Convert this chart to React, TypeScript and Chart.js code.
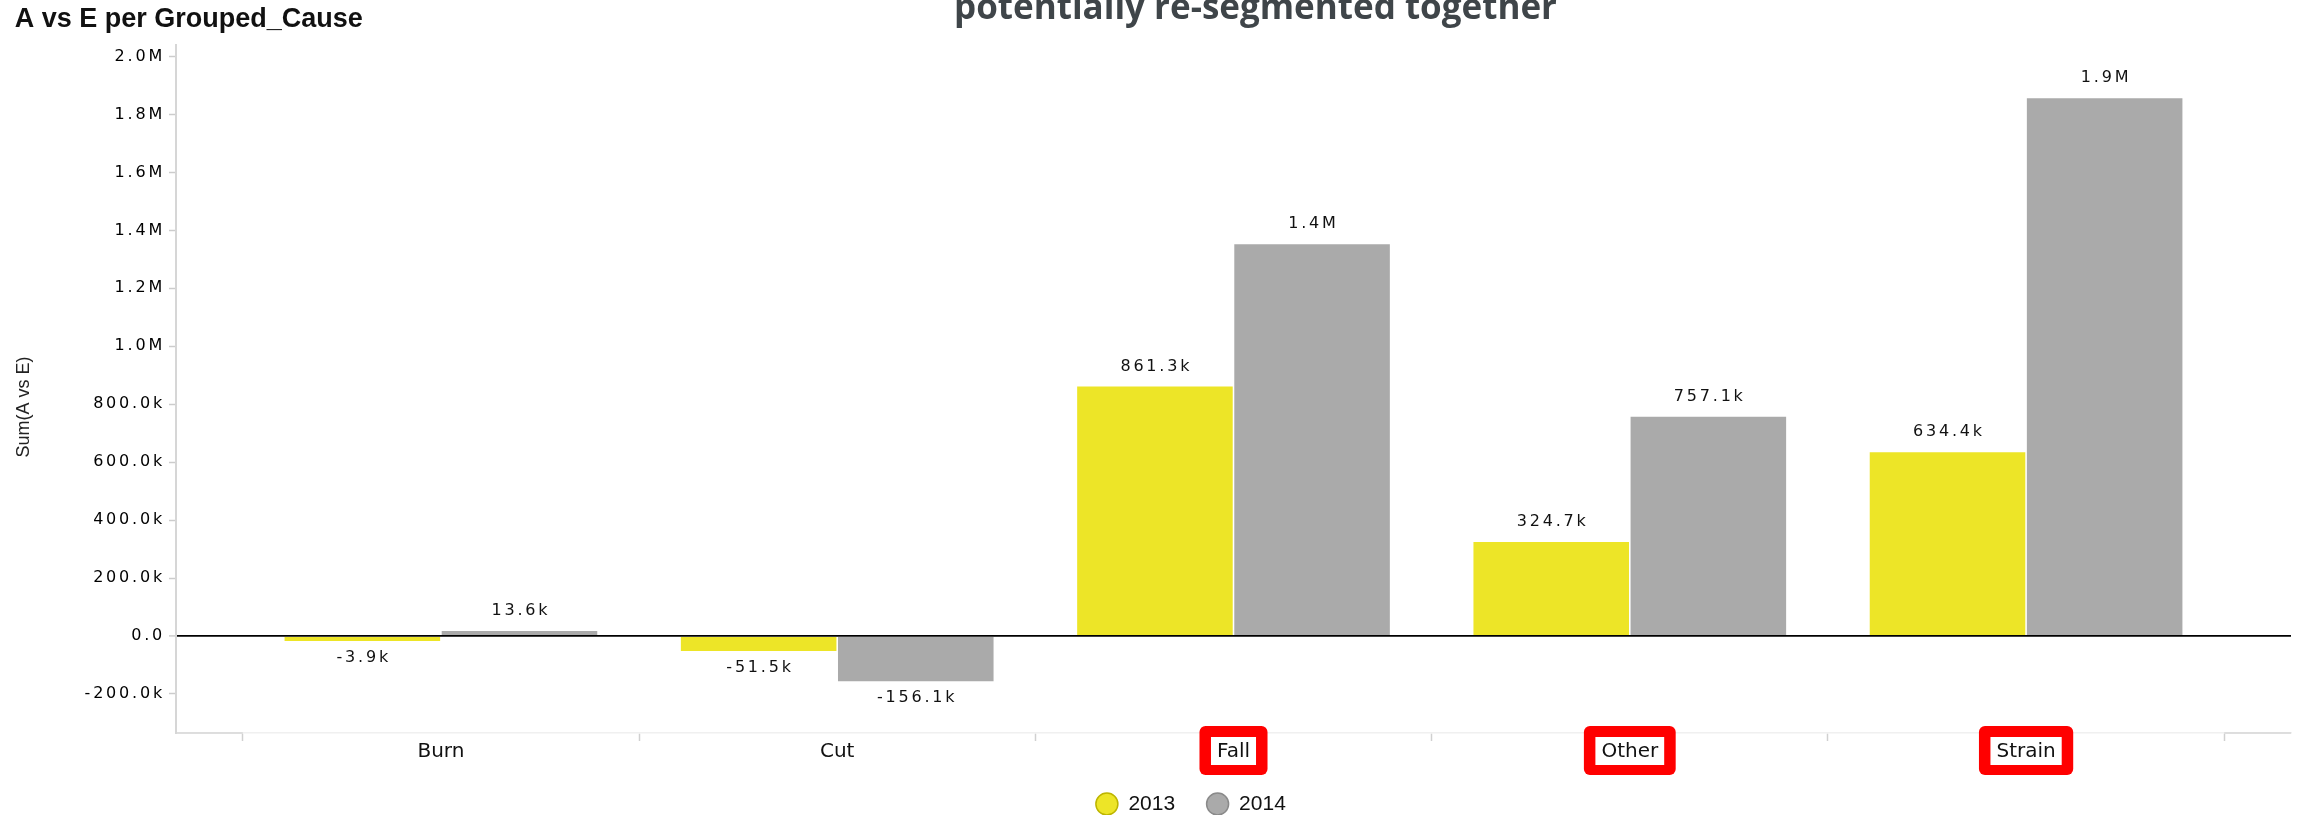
import React, { useEffect, useRef } from 'react';
import { Chart, registerables } from 'chart.js';

Chart.register(...registerables);

// ---- data ----
const categories = ['Burn', 'Cut', 'Fall', 'Other', 'Strain'];
const values2013 = [-3900, -51500, 861300, 324700, 634400];
const values2014 = [13600, -156100, 1352000, 757100, 1856000];
const seriesLabels = ['2013', '2014'];
const highlighted = ['Fall', 'Other', 'Strain'];
const yTickValues = [-200000, 0, 200000, 400000, 600000, 800000, 1000000, 1200000, 1400000, 1600000, 1800000, 2000000];
const chartTitle = 'A vs E per Grouped_Cause';
const overlayTitle = 'potentially re-segmented together';
const yAxisTitle = 'Sum(A vs E)';
const yMin = -334800;
const yMax = 2039700;

// ---- style ----
const barColors = ['#EDE527', '#AAAAAA'];
const legendBorders = ['#BDB500', '#8A8A8A'];
const CAT_EXT = 0.1685; // extra space beyond the outer categories (in category units)
const LEGEND_SHIFT = 38;
const NUM_FONT = '16px "DejaVu Sans"';
const NUM_SPACING = '2.8px';

function fmt(v: number): string {
  if (v === 0) return '0.0';
  if (Math.abs(v) >= 1e6) return (v / 1e6).toFixed(1) + 'M';
  return (v / 1e3).toFixed(1) + 'k';
}

const decorPlugin = {
  id: 'decor',
  afterLayout(chart: any) {
    const lg = chart.legend;
    if (lg) {
      lg.left += LEGEND_SHIFT;
      lg.right += LEGEND_SHIFT;
    }
  },
  beforeDraw(chart: any) {
    const ctx = chart.ctx;
    ctx.letterSpacing = '0px';
    const ys = chart.scales.y;
    if (ys && !ys._patched) {
      const origLabels = ys.drawLabels.bind(ys);
      ys.drawLabels = (area: any) => {
        ctx.save();
        ctx.letterSpacing = NUM_SPACING;
        origLabels(area);
        ctx.restore();
      };
      const origTitle = ys.drawTitle.bind(ys);
      ys.drawTitle = () => {
        ctx.save();
        ctx.translate(0, 18);
        origTitle();
        ctx.restore();
      };
      ys._patched = true;
    }
  },
  afterDatasetsDraw(chart: any) {
    const ctx = chart.ctx;
    const xs = chart.scales.x;
    const area = chart.chartArea;

    // darker end pieces of the x axis line
    ctx.save();
    ctx.strokeStyle = '#d6d6d6';
    ctx.lineWidth = 1.5;
    const firstB = xs.getPixelForValue(-0.5);
    const lastB = xs.getPixelForValue(categories.length - 0.5);
    ctx.beginPath();
    ctx.moveTo(area.left, area.bottom);
    ctx.lineTo(firstB, area.bottom);
    ctx.moveTo(lastB, area.bottom);
    ctx.lineTo(area.right, area.bottom);
    ctx.stroke();
    ctx.restore();

    // value labels
    ctx.save();
    ctx.font = NUM_FONT;
    ctx.letterSpacing = NUM_SPACING;
    ctx.fillStyle = '#111111';
    ctx.textAlign = 'center';
    ctx.textBaseline = 'middle';
    chart.data.datasets.forEach((ds: any, di: number) => {
      const meta = chart.getDatasetMeta(di);
      meta.data.forEach((bar: any, i: number) => {
        const v = ds.data[i] as number;
        const { x, y } = bar.getProps(['x', 'y'], true);
        const ty = v >= 0 ? y - 20 : y + 17;
        ctx.fillText(fmt(v), x + 1.4, ty);
      });
    });
    ctx.restore();

    // red highlight boxes behind highlighted category labels
    ctx.save();
    ctx.font = '20px "DejaVu Sans"';
    ctx.letterSpacing = '0px';
    const cy = xs.top + 8 - 1 + 12 - 1.5;
    categories.forEach((c, i) => {
      if (!highlighted.includes(c)) return;
      const cx = xs.getPixelForTick(i);
      const tw = ctx.measureText(c).width;
      const ow = tw + 35;
      const oh = 49;
      ctx.fillStyle = '#ff0000';
      ctx.beginPath();
      ctx.roundRect(cx - ow / 2, cy - oh / 2, ow, oh, 6);
      ctx.fill();
      const iw = tw + 12;
      const ih = 28;
      ctx.fillStyle = '#ffffff';
      ctx.fillRect(cx - iw / 2, cy - ih / 2 + 0.5, iw, ih);
    });
    ctx.restore();
  },
  afterDraw(chart: any) {
    const ctx = chart.ctx;
    const area = chart.chartArea;
    ctx.save();
    ctx.letterSpacing = '0px';
    ctx.font = 'bold 35px "Open Sans"';
    ctx.fillStyle = '#3f4549';
    ctx.textAlign = 'center';
    ctx.textBaseline = 'alphabetic';
    ctx.fillText(overlayTitle, (area.left + area.right) / 2 + 22, 19);
    ctx.restore();
  },
};

export default function App() {
  const ref = useRef<HTMLCanvasElement>(null);

  useEffect(() => {
    const canvas = ref.current;
    if (!canvas) return;
    const chart = new Chart(canvas, {
      type: 'bar',
      data: {
        labels: categories,
        datasets: [
          {
            label: seriesLabels[0],
            data: values2013,
            backgroundColor: barColors[0],
            borderWidth: 0,
            minBarLength: 5,
            barPercentage: 0.99,
            categoryPercentage: 0.793,
          },
          {
            label: seriesLabels[1],
            data: values2014,
            backgroundColor: barColors[1],
            borderWidth: 0,
            minBarLength: 5,
            barPercentage: 0.99,
            categoryPercentage: 0.793,
          },
        ],
      },
      options: {
        responsive: false,
        maintainAspectRatio: false,
        devicePixelRatio: 1,
        animation: false,
        events: [],
        layout: { padding: { left: 14.7, right: 9, top: 0, bottom: -9.5 } },
        plugins: {
          tooltip: { enabled: false },
          title: {
            display: true,
            text: chartTitle,
            align: 'start',
            color: '#111111',
            font: { family: 'Liberation Sans', size: 27, weight: 'bold' },
            padding: { top: 3.5, bottom: 9.1 },
          },
          legend: {
            display: true,
            position: 'bottom',
            align: 'center',
            labels: {
              usePointStyle: true,
              pointStyle: 'circle',
              pointStyleWidth: 22,
              boxHeight: 15.5,
              padding: 31.5,
              color: '#111111',
              font: { family: 'Liberation Sans', size: 21 },
              generateLabels: (c: any) =>
                c.data.datasets.map((ds: any, i: number) => ({
                  text: ds.label,
                  fillStyle: ds.backgroundColor,
                  strokeStyle: legendBorders[i],
                  lineWidth: 1.5,
                  pointStyle: 'circle',
                  hidden: false,
                  datasetIndex: i,
                  fontColor: '#111111',
                })),
            },
          },
        },
        scales: {
          x: {
            type: 'category',
            offset: true,
            afterBuildTicks: (s: any) => {
              s._startValue -= CAT_EXT;
              s._valueRange += 2 * CAT_EXT;
            },
            afterFit: (s: any) => {
              s.height = 29;
            },
            grid: {
              offset: true,
              drawOnChartArea: false,
              drawTicks: true,
              tickLength: 8,
              tickColor: '#d0d0d0',
              tickWidth: 1.5,
            },
            border: { display: true, color: '#f0f0f0', width: 1.5 },
            ticks: {
              z: 1,
              autoSkip: false,
              maxRotation: 0,
              padding: -1,
              color: '#111111',
              font: { family: 'DejaVu Sans', size: 20 },
            },
          },
          y: {
            type: 'linear',
            min: yMin,
            max: yMax,
            afterBuildTicks: (s: any) => {
              s.ticks = yTickValues.map((v) => ({ value: v }));
            },
            afterFit: (s: any) => {
              s.width = 161.3;
            },
            title: {
              display: true,
              text: yAxisTitle,
              color: '#222222',
              font: { family: 'Liberation Sans', size: 18 },
              padding: { top: -1.5, bottom: 0 },
            },
            grid: {
              z: 1,
              drawOnChartArea: true,
              drawTicks: true,
              tickLength: 7,
              color: (c: any) => (c.tick && c.tick.value === 0 ? '#000000' : 'rgba(0,0,0,0)'),
              lineWidth: (c: any) => (c.tick && c.tick.value === 0 ? 1.8 : 1),
              tickColor: '#cccccc',
              tickWidth: 1.5,
            },
            border: { display: true, color: '#d6d6d6', width: 2, z: 1 },
            ticks: {
              autoSkip: false,
              padding: 4,
              color: '#000000',
              font: { family: 'DejaVu Sans', size: 16 },
              callback: (v: any) => fmt(Number(v)),
            },
          },
        },
      } as any,
      plugins: [decorPlugin as any],
    });
    return () => chart.destroy();
  }, []);

  return (
    <div style={{ position: 'absolute', left: 0, top: 0, width: 2300, height: 815, background: '#ffffff' }}>
      <canvas ref={ref} width={2300} height={815} style={{ display: 'block', width: 2300, height: 815 }} />
    </div>
  );
}
